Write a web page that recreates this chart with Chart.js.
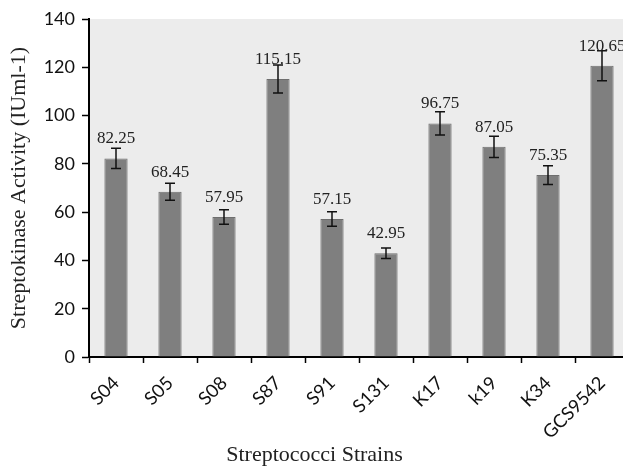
<!DOCTYPE html>
<html>
<head>
<meta charset="utf-8">
<script src="https://cdn.jsdelivr.net/npm/chart.js@4"></script>
<style>
  body { margin: 0; overflow: hidden; background: #fff; }
  #wrap { width: 640px; height: 469px; }
</style>
</head>
<body>
<div id="wrap"><canvas id="chart"></canvas></div>
<script>
// data
const strains = ["S04", "S05", "S08", "S87", "S91", "S131", "K17", "k19", "K34", "GCS9542"];
const activity = [82.25, 68.45, 57.95, 115.15, 57.15, 42.95, 96.75, 87.05, 75.35, 120.65];
const errors = [4.2, 3.5, 3.0, 5.8, 3.0, 2.2, 4.8, 4.4, 3.9, 6.2];
const yTicks = [0, 20, 40, 60, 80, 100, 120, 140];

const serif = "'Liberation Serif', 'Times New Roman', serif";
const sans = "Lato, 'Liberation Sans', sans-serif";

// gray plot background
const plotBg = {
  id: "plotBg",
  beforeDraw(chart) {
    const { ctx, chartArea: a } = chart;
    ctx.save();
    ctx.fillStyle = "#ececec";
    ctx.fillRect(a.left, a.top, a.right - a.left, a.bottom - a.top);
    ctx.restore();
  }
};

// error bars + value labels
const errBars = {
  id: "errBars",
  afterDatasetsDraw(chart) {
    const { ctx } = chart;
    const y = chart.scales.y;
    const meta = chart.getDatasetMeta(0);
    ctx.save();
    ctx.strokeStyle = "#111";
    ctx.lineWidth = 1.5;
    meta.data.forEach((bar, i) => {
      const x = bar.x;
      const hi = y.getPixelForValue(activity[i] + errors[i]);
      const lo = y.getPixelForValue(activity[i] - errors[i]);
      ctx.beginPath();
      ctx.moveTo(x, hi); ctx.lineTo(x, lo);
      ctx.moveTo(x - 5, hi); ctx.lineTo(x + 5, hi);
      ctx.moveTo(x - 5, lo); ctx.lineTo(x + 5, lo);
      ctx.stroke();
    });
    ctx.fillStyle = "#222";
    ctx.font = "17px " + serif;
    ctx.textAlign = "center";
    ctx.textBaseline = "alphabetic";
    meta.data.forEach((bar, i) => {
      ctx.fillText(activity[i].toFixed(2), bar.x, bar.y - 15);
    });
    ctx.restore();
  }
};

new Chart(document.getElementById("chart"), {
  type: "bar",
  data: {
    labels: strains,
    datasets: [{
      data: activity,
      backgroundColor: "#7f7f7f",
      borderColor: "#6e6e6e",
      borderWidth: 1,
      barPercentage: 0.43,
      categoryPercentage: 1
    }]
  },
  options: {
    responsive: true,
    maintainAspectRatio: false,
    animation: false,
    layout: { padding: { top: 19, right: 11, left: 0, bottom: 0 } },
    plugins: {
      legend: { display: false },
      tooltip: { enabled: false },
      title: {
        display: true,
        position: "bottom",
        text: "Streptococci Strains",
        color: "#222",
        font: { family: serif, size: 22, weight: "normal" },
        padding: { top: 0, bottom: 1 }
      }
    },
    scales: {
      x: {
        grid: { drawOnChartArea: false, color: "#000", tickLength: 6, tickWidth: 1.5 },
        border: { color: "#000", width: 2 },
        ticks: { color: "#111", font: { family: sans, size: 18.5 }, maxRotation: 45, minRotation: 45, padding: 9 },
        afterFit(s) { s.height = 84.6; }
      },
      y: {
        min: 0,
        max: 140,
        afterBuildTicks(s) { s.ticks = yTicks.map(v => ({ value: v })); },
        grid: { drawOnChartArea: false, color: "#000", tickLength: 7, tickWidth: 1.5 },
        border: { color: "#000", width: 2 },
        ticks: { color: "#111", font: { family: sans, size: 18 }, padding: 7 },
        title: {
          display: true,
          text: "Streptokinase Activity (IUml-1)",
          color: "#222",
          font: { family: serif, size: 22, weight: "normal" },
          padding: { top: 6, bottom: 0 }
        },
        afterFit(s) { s.width = 89; }
      }
    }
  },
  plugins: [plotBg, errBars]
});
</script>
</body>
</html>
